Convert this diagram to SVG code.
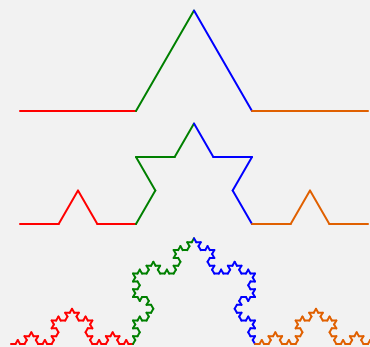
<svg xmlns="http://www.w3.org/2000/svg" xmlns:xlink="http://www.w3.org/1999/xlink" width="370" height="347" viewBox="0 0 370 347">
  <style>
    .seg { fill: none; stroke-width: 2; stroke-linecap: round; stroke-linejoin: round; }
    .r { stroke: #ff0000; }
    .g { stroke: #008000; }
    .b { stroke: #0000ff; }
    .o { stroke: #e06000; }
  </style>
  <defs>
    <path id="k0" class="seg" d="M0,0H1" vector-effect="non-scaling-stroke"/>
    <g id="k1">
      <use href="#k0" transform="scale(0.33333333)"/>
      <use href="#k0" transform="translate(0.33333333,0) rotate(-60) scale(0.33333333)"/>
      <use href="#k0" transform="translate(0.5,-0.28867513) rotate(60) scale(0.33333333)"/>
      <use href="#k0" transform="translate(0.66666667,0) scale(0.33333333)"/>
    </g>
    <g id="k2">
      <use href="#k1" transform="scale(0.33333333)"/>
      <use href="#k1" transform="translate(0.33333333,0) rotate(-60) scale(0.33333333)"/>
      <use href="#k1" transform="translate(0.5,-0.28867513) rotate(60) scale(0.33333333)"/>
      <use href="#k1" transform="translate(0.66666667,0) scale(0.33333333)"/>
    </g>
    <g id="k3">
      <use href="#k2" transform="scale(0.33333333)"/>
      <use href="#k2" transform="translate(0.33333333,0) rotate(-60) scale(0.33333333)"/>
      <use href="#k2" transform="translate(0.5,-0.28867513) rotate(60) scale(0.33333333)"/>
      <use href="#k2" transform="translate(0.66666667,0) scale(0.33333333)"/>
    </g>
  </defs>
  <rect width="370" height="347" fill="#f2f2f2"/>
  <g id="row1" transform="translate(20,111) scale(348)">
    <use href="#k0" class="r" transform="scale(0.33333333)"/>
    <use href="#k0" class="g" transform="translate(0.33333333,0) rotate(-60) scale(0.33333333)"/>
    <use href="#k0" class="b" transform="translate(0.5,-0.28867513) rotate(60) scale(0.33333333)"/>
    <use href="#k0" class="o" transform="translate(0.66666667,0) scale(0.33333333)"/>
  </g>
  <g id="row2" transform="translate(20,224) scale(348)">
    <use href="#k1" class="r" transform="scale(0.33333333)"/>
    <use href="#k1" class="g" transform="translate(0.33333333,0) rotate(-60) scale(0.33333333)"/>
    <use href="#k1" class="b" transform="translate(0.5,-0.28867513) rotate(60) scale(0.33333333)"/>
    <use href="#k1" class="o" transform="translate(0.66666667,0) scale(0.33333333)"/>
  </g>
  <g id="row3" transform="translate(11,344) scale(366)">
    <use href="#k3" class="r" transform="scale(0.33333333)"/>
    <use href="#k3" class="g" transform="translate(0.33333333,0) rotate(-60) scale(0.33333333)"/>
    <use href="#k3" class="b" transform="translate(0.5,-0.28867513) rotate(60) scale(0.33333333)"/>
    <use href="#k3" class="o" transform="translate(0.66666667,0) scale(0.33333333)"/>
  </g>
</svg>
